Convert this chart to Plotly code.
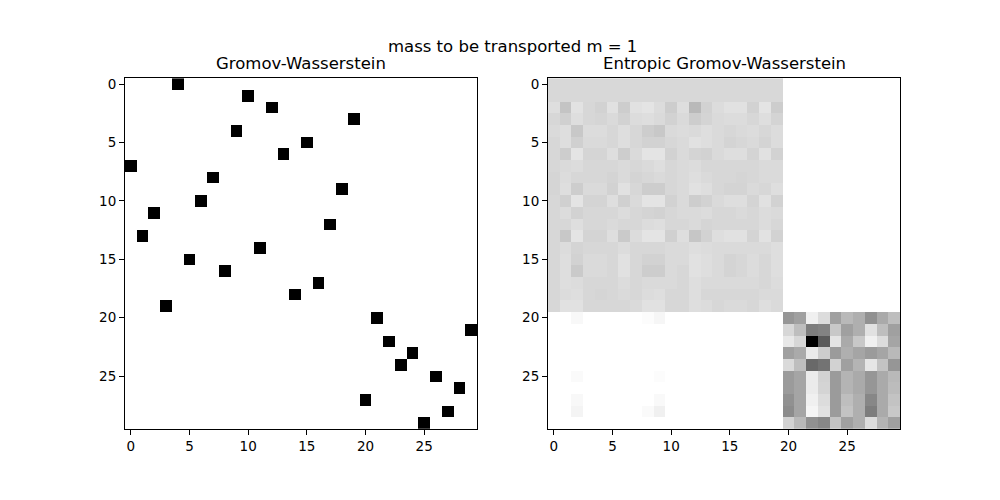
import plotly.graph_objects as go
import numpy as np

n = 30
# Left panel: Gromov-Wasserstein plan (column index of the mass for each row)
gw_perm = [4, 10, 12, 19, 9, 15, 13, 0, 7, 18, 6, 2, 17, 1, 11, 5, 8, 16, 14, 3,
           21, 29, 22, 24, 23, 26, 28, 20, 27, 25]

# Right panel: entropic GW plan, gray level (255 = zero mass, 0 = max)
egw_tl_gray = [
    [216]*20,
    [216]*20,
    [222,196,226,215,210,225,205,225,228,220, 205,222,185,210,220,225,225,210,228,205],
    [215,208,222,215,213,218,210,220,222,218, 210,218,205,212,218,220,220,215,222,212],
    [218,222,200,220,220,215,222,215,205,200, 218,220,218,222,218,215,218,220,215,220],
    [215,222,208,218,218,215,222,215,210,210, 215,218,225,222,218,212,215,218,212,220],
    [215,205,228,213,213,222,205,218,228,228, 210,218,212,210,218,222,222,212,225,210],
    [215,218,220,215,215,215,218,215,218,222, 215,218,220,215,215,215,215,215,218,218],
    [213,220,215,215,215,212,218,212,215,218, 215,218,222,218,215,215,213,215,218,218],
    [213,222,205,218,218,210,225,215,205,205, 215,218,225,222,215,212,212,218,215,222],
    [215,208,228,212,212,222,208,218,228,228, 210,218,205,210,218,222,222,212,225,210],
    [215,220,210,215,215,215,220,215,212,210, 215,218,218,220,215,215,218,215,220,218],
    [215,215,222,215,215,218,215,215,220,222, 215,215,218,213,215,215,215,215,220,215],
    [215,200,228,212,212,222,202,220,228,228, 208,222,198,210,222,225,225,212,226,210],
    [215,220,212,215,215,215,220,215,215,215, 218,218,222,220,218,218,218,218,218,222],
    [215,222,210,218,218,215,225,215,210,210, 218,218,225,222,218,212,215,220,215,222],
    [215,222,202,218,218,215,225,215,205,205, 218,215,225,222,218,212,215,220,215,222],
    [215,222,220,215,215,215,220,215,218,218, 218,215,222,218,218,218,218,218,215,220],
    [215,220,222,215,213,215,218,215,220,222, 215,215,222,215,215,215,215,215,218,218],
    [215,225,225,215,215,215,215,218,225,225, 215,215,222,220,215,218,218,215,222,218],
]
egw_bl_gray = [
    [255,255,248,255,255,255,255,255,252,246] + [255]*10,
    [255]*20,
    [255]*20,
    [255]*20,
    [255]*20,
    [255,255,250,255,255,255,255,255,255,252] + [255]*10,
    [255]*20,
    [255,255,248,255,255,255,255,255,255,249] + [255]*10,
    [255,255,244,255,255,255,255,255,250,240] + [255]*10,
    [255]*20,
]
egw_br_gray = [
    [150,160,240,220,160,185,175,145,170,190],
    [215,190,125,130,200,160,175,225,190,160],
    [232,215,  0, 90,228,170,200,240,220,165],
    [160,170,235,205,155,175,165,155,165,185],
    [218,190,105,115,210,160,180,230,195,150],
    [155,165,235,210,155,180,170,150,170,185],
    [155,165,235,212,155,180,170,150,170,188],
    [145,165,240,220,155,190,175,135,170,195],
    [140,165,245,225,155,195,175,125,170,200],
    [210,185,145,135,195,160,175,220,180,160],
]

tick_vals = [0, 5, 10, 15, 20, 25]
suptitle = "mass to be transported m = 1"
titles = ["Gromov-Wasserstein", "Entropic Gromov-Wasserstein"]

# build matrices
gw = np.zeros((n, n))
for i, j in enumerate(gw_perm):
    gw[i, j] = 1.0

egw_gray = np.full((n, n), 255.0)
egw_gray[:20, :20] = np.array(egw_tl_gray)
egw_gray[20:, :20] = np.array(egw_bl_gray)
egw_gray[20:, 20:] = np.array(egw_br_gray)
egw = (255.0 - egw_gray) / 255.0

gray_r = [[0, "rgb(255,255,255)"], [1, "rgb(0,0,0)"]]

fig = go.Figure()
fig.add_trace(go.Heatmap(z=gw, x=list(range(n)), y=list(range(n)), colorscale=gray_r,
                         zmin=0, zmax=1, showscale=False, xaxis="x", yaxis="y"))
fig.add_trace(go.Heatmap(z=egw, x=list(range(n)), y=list(range(n)), colorscale=gray_r,
                         zmin=0, zmax=1, showscale=False, xaxis="x2", yaxis="y2"))

font = dict(family="DejaVu Sans", size=13.5, color="black")
axis_common = dict(
    tickvals=tick_vals, ticks="outside", ticklen=5, tickwidth=1, tickcolor="black",
    showline=True, linecolor="black", linewidth=1, mirror=True,
    showgrid=False, zeroline=False, tickfont=font,
)
ydom = [0.143, 0.847]
fig.update_layout(
    width=1000, height=500,
    margin=dict(l=0, r=0, t=0, b=0),
    paper_bgcolor="white", plot_bgcolor="white",
    font=font,
    xaxis=dict(domain=[0.125, 0.477], range=[-0.5, 29.5], anchor="y", **axis_common),
    yaxis=dict(domain=ydom, range=[29.5, -0.5], anchor="x", **axis_common),
    xaxis2=dict(domain=[0.548, 0.9], range=[-0.5, 29.5], anchor="y2", **axis_common),
    yaxis2=dict(domain=ydom, range=[29.5, -0.5], anchor="x2", **axis_common),
    annotations=[
        dict(text=suptitle, x=0.512, y=1 - 45 / 500, xref="paper", yref="paper",
             showarrow=False, xanchor="center", yanchor="middle",
             font=dict(family="DejaVu Sans", size=16.5, color="black")),
        dict(text=titles[0], x=(0.125 + 0.477) / 2, y=1 - 62 / 500, xref="paper", yref="paper",
             showarrow=False, xanchor="center", yanchor="middle",
             font=dict(family="DejaVu Sans", size=16.5, color="black")),
        dict(text=titles[1], x=(0.548 + 0.9) / 2, y=1 - 62 / 500, xref="paper", yref="paper",
             showarrow=False, xanchor="center", yanchor="middle",
             font=dict(family="DejaVu Sans", size=16.5, color="black")),
    ],
)

fig.write_html("out.html", config={"displayModeBar": False},
               post_script="document.body.style.margin='0';")
